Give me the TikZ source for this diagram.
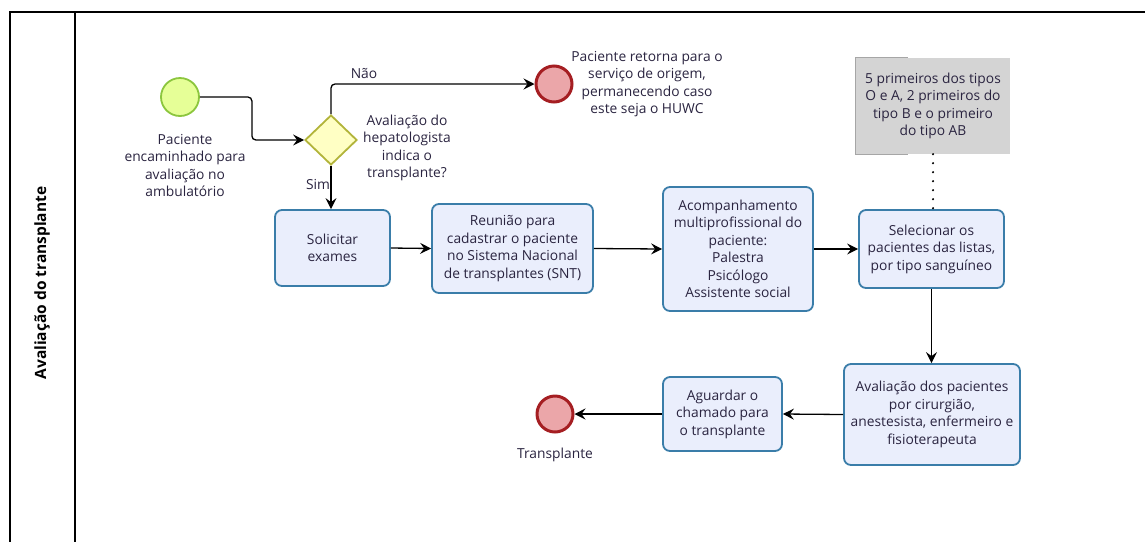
\documentclass[tikz,border=0pt]{standalone}
\usepackage{fontspec}
\setmainfont{Open Sans}
\usetikzlibrary{arrows.meta,shapes.geometric}
\definecolor{taskFill}{HTML}{EAEEFC}
\definecolor{taskLine}{HTML}{3A7DA9}
\definecolor{startFill}{HTML}{E6FF97}
\definecolor{startLine}{HTML}{8CC63E}
\definecolor{endFill}{HTML}{EBA6A9}
\definecolor{endLine}{HTML}{A51E22}
\definecolor{gateFill}{HTML}{FFFFC4}
\definecolor{gateLine}{HTML}{B2B43A}
\definecolor{noteFill}{HTML}{D4D4D4}
\definecolor{labelText}{HTML}{2A2440}

\begin{document}
\begin{tikzpicture}[%%
  x=1pt,y=-1pt,%%
  font=\fontsize{13.8}{17.5}\selectfont,%%
  taskStyle/.style={draw=taskLine,fill=taskFill,line width=1.8pt,rounded corners=7pt,%%
    align=center,inner sep=0pt,text=labelText},%%
  startStyle/.style={circle,draw=startLine,fill=startFill,line width=1.8pt,minimum size=38pt,inner sep=0pt},%%
  endStyle/.style={circle,draw=endLine,fill=endFill,line width=3pt,minimum size=36pt,inner sep=0pt},%%
  gateStyle/.style={diamond,draw=gateLine,fill=gateFill,line width=1.8pt,minimum width=52pt,minimum height=50pt,inner sep=0pt},%%
  noteStyle/.style={fill=noteFill,align=center,inner sep=0pt,text=labelText},%%
  labelStyle/.style={align=center,inner sep=0pt,text=labelText},%%
  flowStyle/.style={-{Stealth[length=11pt,width=11pt,inset=4pt]},line width=1.3pt,rounded corners=4pt},%%
  laneStyle/.style={line width=1.3pt}%%
]
\useasboundingbox (0,0) rectangle (1145,542);
%%
%% The pool and its lane.
\draw[laneStyle] (1145,12) -- (10,12) -- (10,542);
\draw[laneStyle] (75,12) -- (75,542);
\node[rotate=90,font=\fontsize{15.5}{17}\selectfont\bfseries] (lane) at (42,283) {Avaliação do transplante};
%%
%% Events and the gateway.
\node[startStyle] (start) at (180,97) {};
\node[labelStyle] (startLabel) at (185,165.5) {Paciente\\encaminhado para\\avaliação no\\ambulatório};
\node[gateStyle] (gate) at (331,140) {};
\node[labelStyle] (gateLabel) at (407,148) {Avaliação do\\hepatologista\\indica o\\transplante?};
\node[endStyle] (endBack) at (554,84) {};
\node[labelStyle] (endBackLabel) at (647,84) {Paciente retorna para o\\serviço de origem,\\permanecendo caso\\este seja o HUWC};
\node[endStyle] (endTx) at (555,414) {};
\node[labelStyle] (endTxLabel) at (555,455) {Transplante};
\node[labelStyle] (no) at (364,74) {Não};
\node[labelStyle] (yes) at (318,184) {Sim};
%%
%% Tasks.
\node[taskStyle,minimum width=115pt,minimum height=76pt] (exams) at (332.5,248) {Solicitar\\exames};
\node[taskStyle,minimum width=161pt,minimum height=89pt] (meeting) at (512.5,248.5)
  {Reunião para\\cadastrar o paciente\\no Sistema Nacional\\de transplantes (SNT)};
\node[taskStyle,minimum width=150pt,minimum height=124pt] (follow) at (738,249)
  {Acompanhamento\\multiprofissional do\\paciente:\\Palestra\\Psicólogo\\Assistente social};
\node[taskStyle,minimum width=145pt,minimum height=78pt] (select) at (931.5,249)
  {Selecionar os\\pacientes das listas,\\por tipo sanguíneo};
\node[taskStyle,minimum width=176pt,minimum height=101pt] (review) at (932,414.5)
  {Avaliação dos pacientes\\por cirurgião,\\anestesista, enfermeiro e\\fisioterapeuta};
\node[taskStyle,minimum width=119pt,minimum height=74pt] (wait) at (722.5,414)
  {Aguardar o\\chamado para\\o transplante};
%%
%% The annotation, with its bracket.
\node[noteStyle,minimum width=154pt,minimum height=96pt] (note) at (933,106)
  {5 primeiros dos tipos\\O e A, 2 primeiros do\\tipo B e o primeiro\\do tipo AB};
\draw[gray!70,line width=0.8pt] ([xshift=52pt]note.north west) -- (note.north west) -- (note.south west) -- ([xshift=52pt]note.south west);
\draw[line width=2.4pt,line cap=round,dash pattern=on 0pt off 9pt] (note.south) -- (note.south |- select.north);
%%
%% Sequence flows.
\draw[flowStyle] (start.east) -- ++(52,0) |- (gate.west);
\draw[flowStyle] (gate.north) |- (endBack.west);
\draw[flowStyle] (gate.south) -- (gate.south |- exams.north);
\draw[flowStyle] (exams.east) -- (meeting.west);
\draw[flowStyle] (meeting.east) -- (follow.west);
\draw[flowStyle] (follow.east) -- (select.west);
\draw[flowStyle] (select.south) -- (select.south |- review.north);
\draw[flowStyle] (review.west) -- (wait.east);
\draw[flowStyle] (wait.west) -- (endTx.east);
\end{tikzpicture}
\end{document}
